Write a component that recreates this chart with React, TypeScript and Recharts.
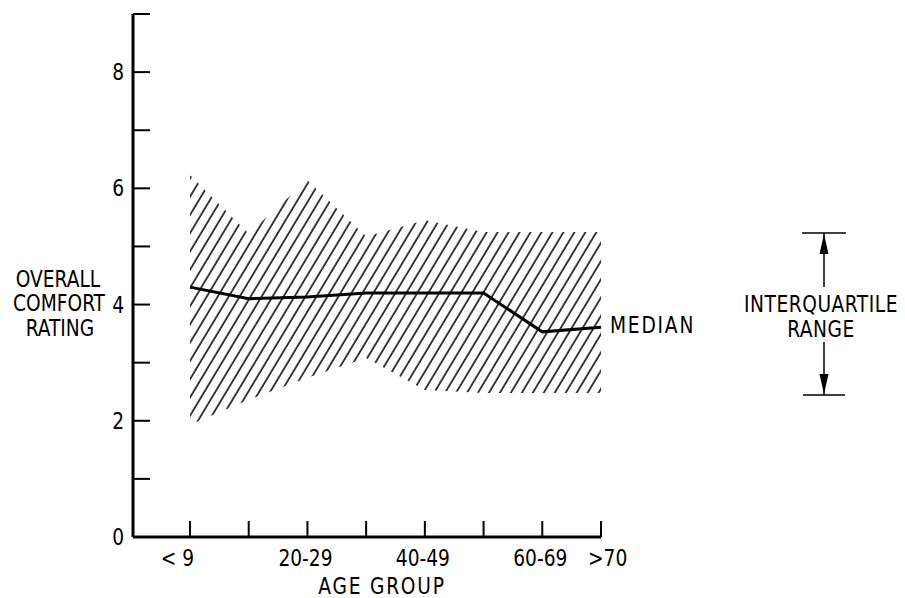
import { ComposedChart, Area, Line, XAxis, YAxis } from 'recharts';

const ageGroups = ['< 9', '10-19', '20-29', '30-39', '40-49', '50-59', '60-69', '>70'];
const tickLabels = ['< 9', '', '20-29', '', '40-49', '', '60-69', '>70'];
const median = [4.3, 4.1, 4.13, 4.2, 4.2, 4.2, 3.53, 3.61];
const lowerQuartile = [1.93, 2.36, 2.74, 3.08, 2.53, 2.48, 2.48, 2.48];
const upperQuartile = [6.23, 5.22, 6.14, 5.17, 5.45, 5.25, 5.25, 5.25];
const yTicks = [0, 1, 2, 3, 4, 5, 6, 7, 8, 9];
const yLabels = ['0', '', '2', '', '4', '', '6', '', '8', ''];

const data = ageGroups.map((age, i) => ({
    age,
    median: median[i],
    range: [lowerQuartile[i], upperQuartile[i]],
}));

const FONT = '"DejaVu Sans Condensed", "Liberation Sans Narrow", sans-serif';

// narrow, tall lettering like the original typewritten labels
const CondText = ({ x, y, anchor = 'start', spacing = 0, children }: any) => (
    <text
        transform={`translate(${x},${y}) scale(0.9,1)`}
        textAnchor={anchor}
        letterSpacing={spacing}
        style={{ fontFamily: FONT, fontSize: 23, fill: '#000' }}
    >
        {children}
    </text>
);

const XTick = ({ x, y, index }: any) => {
    const last = index === ageGroups.length - 1;
    let anchor = 'middle';
    let tx = x - 2;
    if (index === 0) {
        anchor = 'end';
        tx = x + 4;
    } else if (last) {
        anchor = 'start';
        tx = x - 13;
    }
    return (
        <g>
            <line x1={x} y1={y} x2={x} y2={y - 16} stroke="#000" strokeWidth={2} />
            <CondText x={tx} y={y + 29} anchor={anchor}>
                {tickLabels[index]}
            </CondText>
        </g>
    );
};

const YTick = ({ x, y, index }: any) => (
    <g>
        <line x1={x} y1={y} x2={x + 17} y2={y} stroke="#000" strokeWidth={2} />
        <CondText x={x - 9} y={y + 8} anchor="end">
            {yLabels[index]}
        </CondText>
    </g>
);

const Annotations = () => (
    <svg
        width={905}
        height={598}
        style={{ position: 'absolute', left: 0, top: 0, pointerEvents: 'none' }}
    >
        <CondText x={58} y={287} anchor="middle">OVERALL</CondText>
        <CondText x={59} y={311} anchor="middle">COMFORT</CondText>
        <CondText x={60} y={336} anchor="middle">RATING</CondText>
        <CondText x={382} y={594} anchor="middle" spacing={2}>AGE GROUP</CondText>
        <CondText x={610} y={333} spacing={2}>MEDIAN</CondText>
        <CondText x={821} y={312} anchor="middle" spacing={0.6}>INTERQUARTILE</CondText>
        <CondText x={821} y={337} anchor="middle" spacing={0.6}>RANGE</CondText>
        <line x1={802} y1={233} x2={846} y2={233} stroke="#000" strokeWidth={1.5} />
        <line x1={824} y1={233} x2={824} y2={287} stroke="#000" strokeWidth={1.5} />
        <polygon points="824,234 819.5,254 828.5,254" fill="#000" />
        <line x1={824} y1={342} x2={824} y2={395} stroke="#000" strokeWidth={1.5} />
        <polygon points="824,394 819.5,374 828.5,374" fill="#000" />
        <line x1={803} y1={395} x2={845} y2={395} stroke="#000" strokeWidth={1.5} />
    </svg>
);

export default function App() {
    return (
        <div style={{ position: 'absolute', left: 0, top: 0, width: 905, height: 598, background: '#fff' }}>
            <ComposedChart
                width={905}
                height={598}
                data={data}
                margin={{ top: 14, right: 304, bottom: 0, left: 0 }}
            >
                <defs>
                    <pattern
                        id="hatch"
                        patternUnits="userSpaceOnUse"
                        width={9.4}
                        height={9.4}
                        patternTransform="rotate(31)"
                    >
                        <line x1={1} y1={0} x2={1} y2={9.4} stroke="#000" strokeWidth={1.5} />
                    </pattern>
                </defs>
                <XAxis
                    dataKey="age"
                    interval={0}
                    padding={{ left: 57, right: 0 }}
                    height={61}
                    tickSize={0}
                    tickMargin={0}
                    tickLine={false}
                    axisLine={{ stroke: '#000', strokeWidth: 3 }}
                    tick={<XTick />}
                />
                <YAxis
                    type="number"
                    domain={[0, 9]}
                    ticks={yTicks}
                    interval={0}
                    width={133}
                    tickSize={0}
                    tickMargin={0}
                    tickLine={false}
                    axisLine={{ stroke: '#000', strokeWidth: 3 }}
                    tick={<YTick />}
                />
                <Area
                    type="linear"
                    dataKey="range"
                    stroke="none"
                    fill="url(#hatch)"
                    fillOpacity={1}
                    isAnimationActive={false}
                />
                <Line
                    type="linear"
                    dataKey="median"
                    stroke="#000"
                    strokeWidth={3}
                    dot={false}
                    activeDot={false}
                    isAnimationActive={false}
                />
            </ComposedChart>
            <Annotations />
        </div>
    );
}
